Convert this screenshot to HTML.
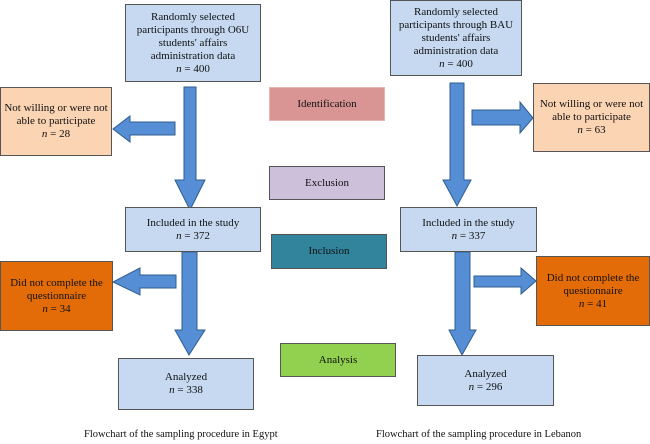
<!DOCTYPE html>
<html><head><style>
body{margin:0;width:650px;height:444px;background:#fff;position:relative;overflow:hidden;font-family:"Liberation Serif",serif;color:#111}
.b{position:absolute;box-sizing:border-box;border:1px solid #555;display:flex;flex-direction:column;justify-content:center;align-items:center;text-align:center;font-size:11px;line-height:13px}
.lb{background:#c6d9f1}
.pe{background:#fbd4b4}
.or{background:#e36c09}
.cap{position:absolute;font-size:10.5px;top:429px}
i{font-style:italic}
</style></head><body>
<svg width="650" height="444" style="position:absolute;left:0;top:0">
<g fill="#558ed5" stroke="#2e5c8f" stroke-width="1">
<polygon points="184,87 196,87 196,180 205,180 190,210 175,180 184,180"/>
<polygon points="175,122 130,122 130,116 113,129 130,142 130,135 175,135"/>
<polygon points="182,252 197,252 197,330 205,330 189,355 175,330 182,330"/>
<polygon points="176,275 140,275 140,268 113,282 140,295 140,288 176,288"/>
<polygon points="450,83 464,83 464,180 471,180 457,206 443,180 450,180"/>
<polygon points="472,110 520,110 520,102 533,118 520,133 520,125 472,125"/>
<polygon points="455,252 470,252 470,330 476,330 462,355 449,330 455,330"/>
<polygon points="474,276 521,276 521,268 536,281 521,294 521,287 474,287"/>
</g></svg>
<div class="b lb" style="left:125px;top:4px;width:136px;height:78px">Randomly selected<br>participants through O6U<br>students' affairs<br>administration data<br><span><i>n</i> = 400</span></div>
<div class="b pe" style="left:0;top:87px;width:112px;height:69px">Not willing or were not<br>able to participate<br><span><i>n</i> = 28</span></div>
<div class="b lb" style="left:125px;top:207px;width:136px;height:45px">Included in the study<br><span><i>n</i> = 372</span></div>
<div class="b or" style="left:0;top:261px;width:113px;height:70px">Did not complete the<br>questionnaire<br><span><i>n</i> = 34</span></div>
<div class="b lb" style="left:118px;top:358px;width:136px;height:52px">Analyzed<br><span><i>n</i> = 338</span></div>

<div class="b" style="left:269px;top:87px;width:116px;height:34px;background:#d99594;border-color:#e8b4b3">Identification</div>
<div class="b" style="left:269px;top:166px;width:116px;height:34px;background:#ccc0da">Exclusion</div>
<div class="b" style="left:271px;top:234px;width:116px;height:35px;background:#31849b">Inclusion</div>
<div class="b" style="left:280px;top:343px;width:116px;height:34px;background:#92d050">Analysis</div>

<div class="b lb" style="left:390px;top:0;width:132px;height:76px">Randomly selected<br>participants through BAU<br>students' affairs<br>administration data<br><span><i>n</i> = 400</span></div>
<div class="b pe" style="left:533px;top:83px;width:117px;height:69px">Not willing or were not<br>able to participate<br><span><i>n</i> = 63</span></div>
<div class="b lb" style="left:400px;top:207px;width:137px;height:45px">Included in the study<br><span><i>n</i> = 337</span></div>
<div class="b or" style="left:536px;top:256px;width:114px;height:70px">Did not complete the<br>questionnaire<br><span><i>n</i> = 41</span></div>
<div class="b lb" style="left:417px;top:355px;width:137px;height:51px">Analyzed<br><span><i>n</i> = 296</span></div>

<div class="cap" style="left:84px">Flowchart of the sampling procedure in Egypt</div>
<div class="cap" style="left:376px">Flowchart of the sampling procedure in Lebanon</div>
</body></html>
